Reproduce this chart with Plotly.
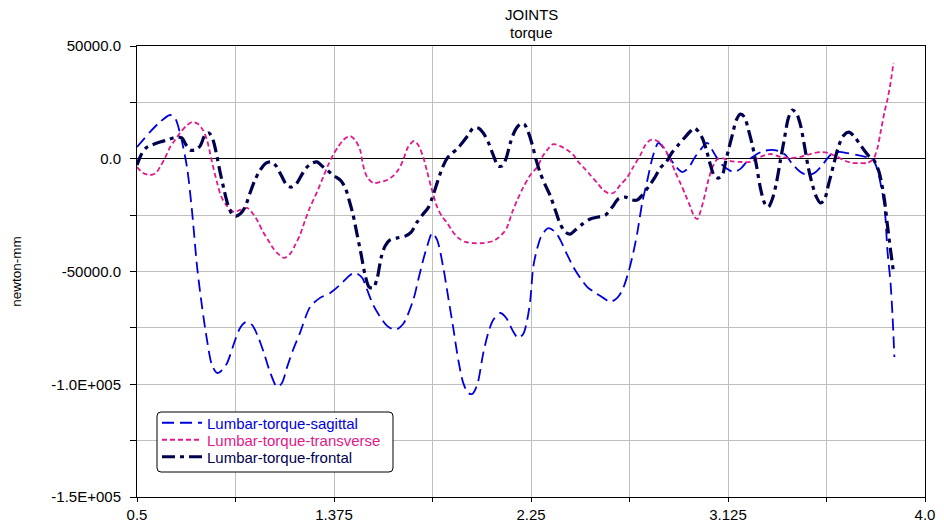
import plotly.graph_objects as go

# ---- data (time, newton-mm) ----
sag_x = [0.5, 0.558, 0.602, 0.647, 0.669, 0.691, 0.722, 0.744, 0.767, 0.789, 0.811, 0.833, 0.856, 0.878, 0.9, 0.936, 0.958, 0.984, 1.011, 1.038, 1.064, 1.091, 1.122, 1.144, 1.167, 1.193, 1.224, 1.269, 1.313, 1.358, 1.402, 1.447, 1.469, 1.5, 1.522, 1.549, 1.58, 1.611, 1.647, 1.682, 1.727, 1.749, 1.771, 1.793, 1.811, 1.833, 1.86, 1.882, 1.904, 1.927, 1.949, 1.971, 1.989, 2.011, 2.038, 2.06, 2.082, 2.113, 2.14, 2.167, 2.193, 2.216, 2.233, 2.247, 2.26, 2.278, 2.296, 2.327, 2.358, 2.38, 2.407, 2.438, 2.469, 2.5, 2.536, 2.571, 2.602, 2.633, 2.656, 2.682, 2.704, 2.722, 2.744, 2.767, 2.793, 2.816, 2.838, 2.864, 2.891, 2.922, 2.949, 2.976, 3.002, 3.033, 3.06, 3.091, 3.122, 3.149, 3.18, 3.211, 3.247, 3.282, 3.318, 3.349, 3.38, 3.411, 3.447, 3.478, 3.509, 3.544, 3.58, 3.616, 3.656, 3.696, 3.736, 3.767, 3.789, 3.802, 3.816, 3.824, 3.833, 3.847, 3.856, 3.864]
sag_y = [5200, 11900, 16300, 19400, 18000, 11400, -3700, -22800, -48000, -65700, -80400, -91500, -95000, -93700, -90600, -80400, -75000, -72400, -73700, -79000, -86200, -94600, -101200, -99400, -92300, -84800, -77200, -65700, -61700, -59500, -55900, -51500, -50600, -52800, -58100, -64800, -70100, -74100, -75900, -73300, -62600, -53800, -44900, -37400, -32900, -36000, -48000, -61300, -74600, -89200, -99400, -103900, -104300, -100300, -86200, -77200, -71500, -68400, -70600, -75900, -79500, -77600, -71500, -62600, -48000, -39600, -34300, -30800, -32500, -36000, -41800, -48000, -52900, -56900, -59500, -61700, -63500, -61700, -58200, -50600, -41800, -32900, -19600, -9400, 1700, 7000, 4800, 800, -3200, -5900, -4100, 300, 3900, 7000, 3000, -1900, -4500, -5900, -4500, -1000, 1700, 3400, 3900, 3400, 1700, -2300, -5900, -7200, -6300, -2800, 1700, 3000, 2500, 1700, 800, 0, -5000, -10700, -18300, -25800, -40500, -55100, -70100, -87900]

trn_x = [0.5, 0.527, 0.558, 0.584, 0.602, 0.624, 0.647, 0.669, 0.691, 0.718, 0.744, 0.771, 0.793, 0.811, 0.833, 0.856, 0.873, 0.896, 0.931, 0.958, 0.989, 1.016, 1.038, 1.06, 1.082, 1.104, 1.127, 1.153, 1.18, 1.202, 1.224, 1.247, 1.269, 1.3, 1.327, 1.349, 1.371, 1.393, 1.416, 1.447, 1.469, 1.491, 1.504, 1.522, 1.549, 1.58, 1.611, 1.638, 1.66, 1.682, 1.704, 1.731, 1.749, 1.771, 1.789, 1.807, 1.833, 1.856, 1.878, 1.9, 1.927, 1.958, 1.993, 2.038, 2.082, 2.104, 2.127, 2.144, 2.167, 2.189, 2.216, 2.247, 2.278, 2.3, 2.322, 2.349, 2.38, 2.411, 2.438, 2.46, 2.482, 2.513, 2.544, 2.571, 2.593, 2.616, 2.647, 2.678, 2.704, 2.736, 2.758, 2.78, 2.802, 2.824, 2.847, 2.869, 2.891, 2.913, 2.936, 2.958, 2.976, 2.989, 3.002, 3.02, 3.038, 3.056, 3.078, 3.1, 3.136, 3.18, 3.224, 3.269, 3.313, 3.358, 3.402, 3.447, 3.491, 3.536, 3.571, 3.611, 3.647, 3.678, 3.713, 3.744, 3.771, 3.789, 3.802, 3.82, 3.833, 3.847, 3.86]
trn_y = [-3700, -6300, -7200, -6300, -3700, 300, 5200, 8300, 11400, 14500, 16300, 15400, 12700, 8300, -1400, -10700, -16500, -20500, -23600, -22700, -21800, -24500, -28000, -32500, -36000, -39600, -42200, -44000, -42200, -38300, -33800, -27200, -21400, -14700, -8100, -2800, 1700, 5200, 8300, 10100, 8300, 3900, -2800, -8100, -10700, -10300, -9400, -7600, -5000, -600, 5200, 7900, 6100, 800, -5900, -12700, -21400, -25800, -28500, -32000, -35100, -36900, -37400, -37400, -36500, -35100, -32900, -30300, -23600, -18300, -12600, -7200, -3700, 800, 3900, 6500, 5600, 3900, 1700, -1400, -3700, -7200, -10700, -13900, -15200, -15200, -11600, -8100, -3700, 1700, 6100, 8300, 8300, 7000, 3900, -600, -5900, -10700, -16000, -21400, -25800, -26700, -23600, -17000, -9400, -3700, -100, 300, -1000, -1400, -1400, 800, 2100, 800, 300, 800, 2100, 3000, 2500, 800, -1000, -1900, -1900, -1900, 0, 4800, 11400, 20700, 26100, 33600, 42500]

frn_x = [0.5, 0.518, 0.54, 0.567, 0.602, 0.633, 0.66, 0.682, 0.7, 0.718, 0.736, 0.758, 0.78, 0.802, 0.82, 0.838, 0.851, 0.869, 0.887, 0.904, 0.922, 0.94, 0.962, 0.98, 1.002, 1.024, 1.047, 1.073, 1.096, 1.118, 1.14, 1.162, 1.184, 1.207, 1.229, 1.251, 1.278, 1.3, 1.322, 1.349, 1.376, 1.402, 1.424, 1.442, 1.46, 1.478, 1.496, 1.513, 1.531, 1.549, 1.567, 1.584, 1.602, 1.624, 1.656, 1.691, 1.718, 1.744, 1.771, 1.793, 1.811, 1.833, 1.856, 1.878, 1.9, 1.922, 1.944, 1.971, 1.993, 2.016, 2.038, 2.06, 2.082, 2.104, 2.122, 2.14, 2.158, 2.18, 2.202, 2.22, 2.238, 2.256, 2.273, 2.291, 2.313, 2.336, 2.358, 2.38, 2.402, 2.424, 2.447, 2.478, 2.513, 2.549, 2.58, 2.611, 2.638, 2.669, 2.7, 2.722, 2.744, 2.771, 2.798, 2.824, 2.851, 2.878, 2.904, 2.931, 2.958, 2.976, 2.993, 3.011, 3.029, 3.047, 3.064, 3.082, 3.1, 3.113, 3.127, 3.144, 3.162, 3.18, 3.198, 3.216, 3.233, 3.251, 3.269, 3.287, 3.304, 3.322, 3.34, 3.358, 3.376, 3.393, 3.411, 3.429, 3.447, 3.464, 3.482, 3.5, 3.518, 3.536, 3.553, 3.571, 3.596, 3.618, 3.64, 3.662, 3.684, 3.707, 3.729, 3.751, 3.773, 3.796, 3.807, 3.82, 3.833, 3.847, 3.86]
frn_y = [-2800, 1700, 4800, 6100, 7400, 8300, 9200, 9600, 9200, 6100, 3900, 3900, 5600, 10500, 11400, 8300, 3000, -5900, -13900, -20500, -24500, -25400, -24100, -21400, -15200, -9400, -5000, -1900, -1400, -3200, -7200, -11200, -12600, -11200, -7600, -4100, -1900, -1400, -3200, -5400, -7600, -9400, -12600, -18300, -25000, -33800, -42700, -51500, -56900, -57300, -52900, -44000, -38700, -36000, -35100, -34300, -32500, -28100, -24500, -21800, -17400, -10700, -4100, 300, 2500, 4300, 7000, 10500, 13600, 13600, 11400, 7400, 1700, -3200, -3200, 300, 7000, 12700, 15400, 15400, 11800, 6100, -600, -6300, -11600, -16500, -22800, -29000, -32500, -33400, -31600, -29000, -26700, -25800, -25000, -21400, -17800, -17000, -18300, -18300, -16100, -12600, -8600, -4100, -1400, 3000, 6100, 9200, 12200, 13600, 12200, 9200, 3900, -2800, -7600, -8600, -7200, -1900, 3900, 10500, 17200, 19800, 18500, 12700, 6100, -2800, -13000, -19600, -21400, -17800, -10700, -600, 9200, 18000, 21600, 20200, 14900, 6100, -4100, -11600, -17000, -19600, -18300, -11600, -1900, 6100, 10500, 11800, 10100, 7000, 3900, 1200, -600, -5900, -10700, -18300, -29400, -40500, -50300]

names = ["Lumbar-torque-sagittal", "Lumbar-torque-transverse", "Lumbar-torque-frontal"]
colors = ["#0000DD", "#E0198A", "#00004E"]

x_tickvals = [0.5, 0.9375, 1.375, 1.8125, 2.25, 2.6875, 3.125, 3.5625, 4.0]
x_ticktext = ["0.5", "", "1.375", "", "2.25", "", "3.125", "", "4.0"]
y_tickvals = [-150000, -125000, -100000, -75000, -50000, -25000, 0, 25000, 50000]
y_ticktext = ["-1.5E+005", "", "-1.0E+005", "", "-50000.0", "", "0.0", "", "50000.0"]

FONT = "Liberation Sans, Arial, sans-serif"

# plot area in pixels: x 137..925, y 46..497
def px2paper(px, py):
    return (px - 137) / 788.0, (497 - py) / 451.0

fig = go.Figure()
series = [(sag_x, sag_y, "12px,6px", 1.8), (trn_x, trn_y, "5px,3px", 1.8), (frn_x, frn_y, "13px,5px,4px,5px", 3.2)]
legend_ids = ["legend", "legend2", "legend3"]
legend_rows = [423, 440, 457]
for (xs, ys, dash, w), name, col, lid in zip(series, names, colors, legend_ids):
    fig.add_trace(go.Scatter(
        x=xs, y=ys, mode="lines",
        line=dict(color=col, width=w, dash=dash, shape="spline", smoothing=0.8),
        name=f'<span style="color:{col}">{name}</span>',
        legend=lid,
    ))

# legend box with rounded corners
x0, y1 = px2paper(157, 412)
x1, y0 = px2paper(393, 472)
rx = 4 / 788.0
ry = 4 / 451.0
path = (f"M {x0+rx},{y0} L {x1-rx},{y0} Q {x1},{y0} {x1},{y0+ry} L {x1},{y1-ry} "
        f"Q {x1},{y1} {x1-rx},{y1} L {x0+rx},{y1} Q {x0},{y1} {x0},{y1-ry} "
        f"L {x0},{y0+ry} Q {x0},{y0} {x0+rx},{y0} Z")
fig.add_shape(type="path", path=path, xref="paper", yref="paper",
              line=dict(color="black", width=1), fillcolor="white", layer="above")

fig.add_annotation(text="JOINTS", x=0.5, y=(497 - 15) / 451.0, xref="paper", yref="paper",
                   showarrow=False, yanchor="middle", font=dict(family=FONT, size=15, color="black"))
fig.add_annotation(text="torque", x=0.5, y=(497 - 32) / 451.0, xref="paper", yref="paper",
                   showarrow=False, yanchor="middle", font=dict(family=FONT, size=15, color="black"))

legend_common = dict(xanchor="left", yanchor="middle", bgcolor="rgba(0,0,0,0)", borderwidth=0,
                     font=dict(family=FONT, size=15), itemwidth=40)
layout_legends = {}
for lid, row in zip(legend_ids, legend_rows):
    layout_legends[lid] = dict(x=px2paper(157, 0)[0], y=px2paper(0, row)[1], **legend_common)

fig.update_layout(
    width=944, height=529,
    margin=dict(l=137, r=19, t=46, b=32, autoexpand=False),
    paper_bgcolor="white", plot_bgcolor="white",
    font=dict(family=FONT, size=15, color="black"),
    showlegend=True,
    xaxis=dict(range=[0.5, 4.0], tickmode="array", tickvals=x_tickvals, ticktext=x_ticktext,
               automargin=False,
               showgrid=True, gridcolor="#BFBFBF", gridwidth=1, zeroline=False,
               showline=True, linecolor="black", linewidth=1, mirror=True,
               ticks="outside", ticklen=4, tickcolor="black", tickfont=dict(size=15)),
    yaxis=dict(range=[-150000, 50000], tickmode="array", tickvals=y_tickvals, ticktext=y_ticktext,
               automargin=False,
               showgrid=True, gridcolor="#BFBFBF", gridwidth=1,
               zeroline=True, zerolinecolor="black", zerolinewidth=1,
               showline=True, linecolor="black", linewidth=1, mirror=True,
               ticks="outside", ticklen=6, tickcolor="black", tickfont=dict(size=15),
               ticklabelstandoff=6,
               title=dict(text="newton-mm", font=dict(size=13.5), standoff=26)),
    **layout_legends,
)

fig.write_html("out.html")
